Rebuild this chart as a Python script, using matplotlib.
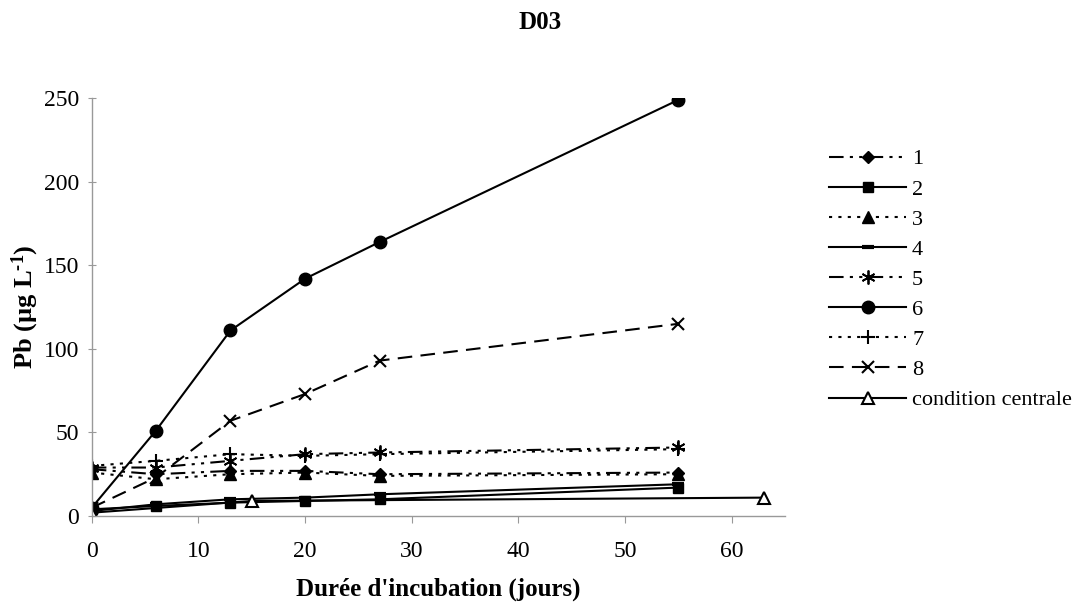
import matplotlib
matplotlib.use("Agg")
import matplotlib.pyplot as plt

plt.rcParams['font.family'] = ['Liberation Serif', 'DejaVu Serif']
plt.rcParams['mathtext.fontset'] = 'custom'
plt.rcParams['mathtext.rm'] = 'Liberation Serif:bold'
plt.rcParams['mathtext.bf'] = 'Liberation Serif:bold'
plt.rcParams['mathtext.it'] = 'Liberation Serif:bold:italic'

days = [0, 6, 13, 20, 27, 55]
s1 = [28, 25, 27, 27, 25, 26]
s2 = [4, 6, 8, 9, 10, 17]
s3 = [26, 22, 25, 26, 24, 25]
s4 = [3, 7, 10, 11, 13, 19]
s5 = [29, 29, 33, 37, 38, 41]
s6 = [5, 51, 111, 142, 164, 249]
s7 = [30, 33, 37, 36, 37, 40]
s8 = [5, 23, 57, 73, 93, 115]
centre_days = [0, 15, 63]
centre = [2, 9, 11]

labels = ['1', '2', '3', '4', '5', '6', '7', '8', 'condition centrale']

fig = plt.figure(figsize=(10.8, 6.06), dpi=100)
ax = fig.add_axes([0.085, 0.1485, 0.642, 0.6895])

dashdotdot = (0, (7, 3, 1.5, 3, 1.5, 3))
ax.plot(days, s1, color='black', lw=1.5, ls=dashdotdot, marker='D', ms=6, label=labels[0])
ax.plot(days, s2, color='black', lw=1.5, ls='-', marker='s', ms=7, label=labels[1])
ax.plot(days, s3, color='black', lw=1.5, ls=(0, (1.5, 3)), marker='^', ms=8, label=labels[2])
ax.plot(days, s4, color='black', lw=1.5, ls='-', marker='_', ms=8, mew=3, label=labels[3])
ax.plot(days, s5, color='black', lw=1.5, ls=dashdotdot, marker=(6, 2, 0), ms=10, mew=1.3, label=labels[4])
ax.plot(days, s6, color='black', lw=1.5, ls='-', marker='o', ms=9, label=labels[5])
ax.plot(days, s7, color='black', lw=1.5, ls=(0, (1.5, 3)), marker='+', ms=10, mew=1.5, label=labels[6])
ax.plot(days, s8, color='black', lw=1.5, ls=(0, (7, 4)), marker='x', ms=8, mew=1.5, label=labels[7])
ax.plot(centre_days, centre, color='black', lw=1.5, ls='-', marker='^', ms=8, mfc='white', mew=1.5, label=labels[8])

ax.set_xlim(0, 65)
ax.set_ylim(0, 250)
ax.set_xticks(range(0, 61, 10))
ax.set_yticks(range(0, 251, 50))
for sp in ['top', 'right']:
    ax.spines[sp].set_visible(False)
for sp in ['left', 'bottom']:
    ax.spines[sp].set_color('#999999')
    ax.spines[sp].set_linewidth(1)
ax.tick_params(axis='y', direction='inout', length=6, color='#999999', labelsize=17, pad=6)
ax.tick_params(axis='x', direction='out', length=5, color='#999999', labelsize=17, pad=13)

ax.set_xlabel("Durée d'incubation (jours)", fontsize=18, fontweight='bold', labelpad=11)
ax.set_ylabel("Pb (µg L$^{\u2010 1}$)", fontsize=19, fontweight='bold', labelpad=2)
fig.text(0.5, 0.963, 'D03', ha='center', va='center', fontsize=18, fontweight='bold')

leg = ax.legend(loc='upper left', bbox_to_anchor=(1.05, 0.9), frameon=False,
                fontsize=16, handlelength=3.5, labelspacing=0.43, handletextpad=0.25,
                borderaxespad=0)

fig.savefig('out.png', dpi=100)
